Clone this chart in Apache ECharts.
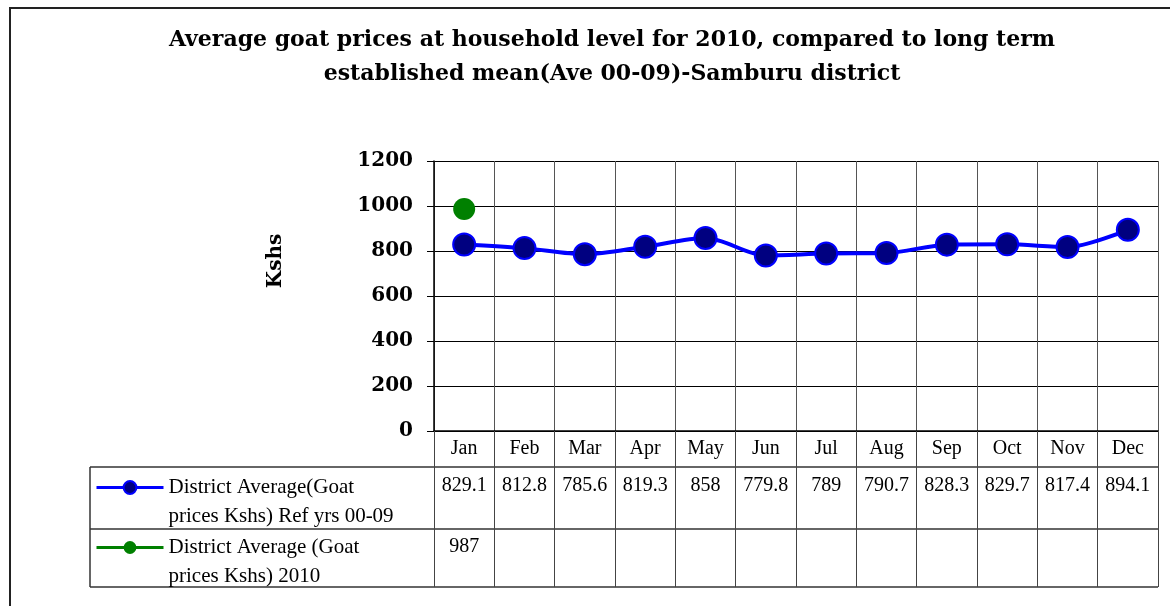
<!DOCTYPE html>
<html>
<head>
    <meta charset="utf-8"/>
    <title>Average goat prices - Samburu district</title>
    <script src="https://cdn.jsdelivr.net/npm/echarts@6/dist/echarts.min.js"></script>
    <style>
        html, body { margin: 0; padding: 0; background: #fff; }
        #chart { width: 1170px; height: 606px; }
    </style>
</head>
<body>
<div id="chart"></div>
<script>
    // data
    var months = ['Jan', 'Feb', 'Mar', 'Apr', 'May', 'Jun', 'Jul', 'Aug', 'Sep', 'Oct', 'Nov', 'Dec'];
    var refValues = [829.1, 812.8, 785.6, 819.3, 858, 779.8, 789, 790.7, 828.3, 829.7, 817.4, 894.1];
    var values2010 = [987, null, null, null, null, null, null, null, null, null, null, null];
    var yMin = 0, yMax = 1200, yStep = 200;

    var refName = 'District Average(Goat prices Kshs) Ref yrs 00-09';
    var name2010 = 'District Average (Goat prices Kshs) 2010';
    // leading empty line keeps the legend symbol level with the first text line
    var legendText = {};
    legendText[refName] = '\nDistrict Average(Goat\nprices Kshs) Ref yrs 00-09';
    legendText[name2010] = '\nDistrict Average (Goat\nprices Kshs) 2010';

    var serif = 'Liberation Serif';
    var boldSerif = 'DejaVu Serif';
    var cellText = function (v) { return v == null ? '' : String(v); };

    var myChart = echarts.init(document.getElementById('chart'));

    function legendFor(name, top) {
        return {
            data: [name],
            left: 95,
            top: top,
            padding: 0,
            orient: 'vertical',
            itemWidth: 67,
            itemHeight: 16,
            selectedMode: false,
            lineStyle: {width: 3},
            formatter: function (n) { return legendText[n]; },
            textStyle: {fontFamily: serif, fontSize: 21, color: '#000', lineHeight: 29}
        };
    }

    // table frame (left legend column + row separators)
    var tableLines = [
        [90, 467, 1158, 467],
        [90, 529, 1158, 529],
        [90, 587, 1158, 587],
        [90, 467, 90, 587]
    ].map(function (p) {
        return {
            type: 'line',
            shape: {x1: p[0], y1: p[1], x2: p[2], y2: p[3]},
            style: {stroke: '#333', lineWidth: 1.5}
        };
    });

    var option = {
        animation: false,
        title: {
            text: 'Average goat prices at household level for 2010, compared to long term\nestablished mean(Ave 00-09)-Samburu district',
            left: 612,
            top: 23,
            padding: 0,
            textAlign: 'center',
            textStyle: {fontFamily: boldSerif, fontWeight: 'bold', fontSize: 22, lineHeight: 34, color: '#000'}
        },
        legend: [legendFor(refName, 444), legendFor(name2010, 504)],
        grid: {left: 434, right: 12, top: 161, bottom: 175, containLabel: false},
        xAxis: [{
            type: 'category',
            data: months,
            axisLine: {lineStyle: {color: '#000', width: 1.5}},
            axisTick: {show: true, interval: 0, length: 156, lineStyle: {color: '#444'}},
            axisLabel: {interval: 0, margin: 8, fontFamily: serif, fontSize: 20, color: '#000'},
            splitLine: {show: true, interval: 0, lineStyle: {color: '#555'}}
        }, {
            type: 'category',
            data: refValues.map(cellText),
            position: 'bottom',
            offset: 36,
            axisLine: {show: false},
            axisTick: {show: false},
            axisLabel: {interval: 0, margin: 9, fontFamily: serif, fontSize: 20, color: '#000'}
        }, {
            type: 'category',
            data: values2010.map(cellText),
            position: 'bottom',
            offset: 98,
            axisLine: {show: false},
            axisTick: {show: false},
            axisLabel: {interval: 0, margin: 8, fontFamily: serif, fontSize: 20, color: '#000'}
        }],
        yAxis: {
            type: 'value',
            min: yMin,
            max: yMax,
            interval: yStep,
            name: 'Kshs',
            nameLocation: 'middle',
            nameGap: 148,
            nameTextStyle: {fontFamily: boldSerif, fontWeight: 'bold', fontSize: 20, color: '#000', padding: [0, 0, 0, 70]},
            axisLine: {show: true, lineStyle: {color: '#000', width: 1.5}},
            axisTick: {show: true, length: 7, lineStyle: {color: '#000'}},
            axisLabel: {
                margin: 21, fontFamily: boldSerif, fontWeight: 'bold', fontSize: 20, color: '#000',
                formatter: function (v) { return String(v); }
            },
            splitLine: {lineStyle: {color: '#000', width: 1}}
        },
        series: [{
            name: refName,
            type: 'line',
            data: refValues,
            smooth: 0.3,
            symbol: 'circle',
            symbolSize: 22,
            lineStyle: {color: '#0000FF', width: 4},
            itemStyle: {color: '#000080', borderColor: '#0000FF', borderWidth: 2}
        }, {
            name: name2010,
            type: 'line',
            data: values2010,
            symbol: 'circle',
            symbolSize: 22,
            lineStyle: {color: '#008000', width: 4},
            itemStyle: {color: '#008000'}
        }],
        graphic: [{
            type: 'rect',
            shape: {x: 10, y: 8, width: 1300, height: 700},
            style: {fill: 'none', stroke: '#222', lineWidth: 2}
        }].concat(tableLines)
    };

    myChart.setOption(option);
</script>
</body>
</html>
